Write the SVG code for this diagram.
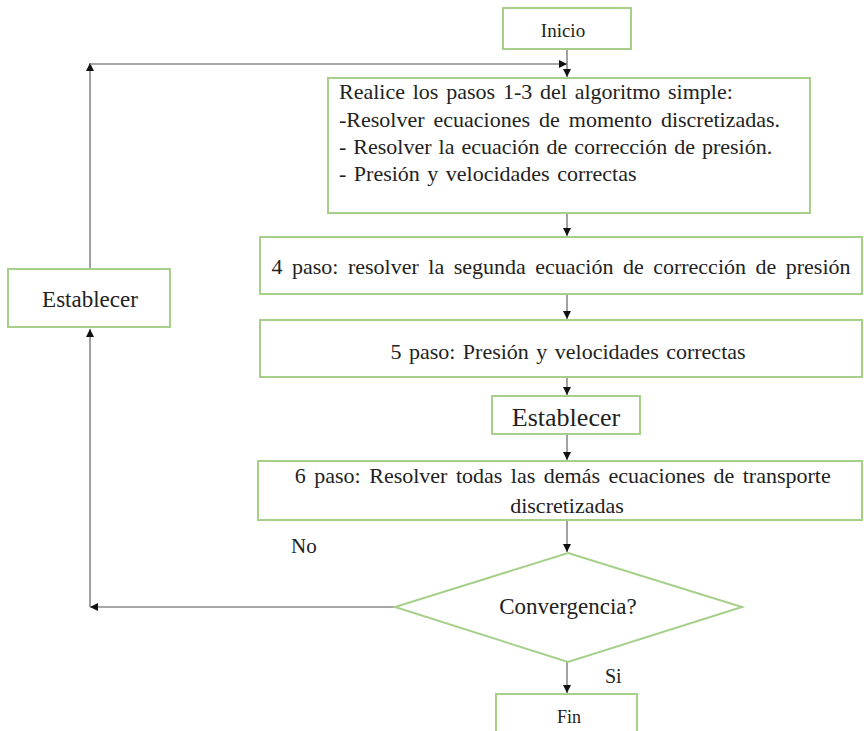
<svg xmlns="http://www.w3.org/2000/svg" width="864" height="731" viewBox="0 0 864 731">
<defs>
<marker id="ah" viewBox="0 0 10 10" refX="10" refY="5" markerWidth="8" markerHeight="8" markerUnits="userSpaceOnUse" orient="auto">
<path d="M0,0 L10,5 L0,10 z" fill="#111"/>
</marker>
</defs>
<style>
.box{fill:#fff;stroke:#a6d08a;stroke-width:2}
.t{font-family:"Liberation Serif","Times New Roman",serif;fill:#222}
.c{fill:none;stroke:#8a8a8a;stroke-width:1.6;marker-end:url(#ah)}
</style>
<rect width="864" height="731" fill="#fff"/>
<g id="connectors">
<line class="c" x1="567" y1="49" x2="567" y2="77"/>
<line class="c" x1="567" y1="213" x2="567" y2="236"/>
<line class="c" x1="567" y1="294" x2="567" y2="319"/>
<line class="c" x1="567" y1="377" x2="567" y2="395"/>
<line class="c" x1="567" y1="434" x2="567" y2="460"/>
<line class="c" x1="567" y1="520" x2="567" y2="552"/>
<line class="c" x1="567" y1="662" x2="567" y2="693"/>
<line class="c" x1="394" y1="607" x2="90" y2="607"/>
<line class="c" x1="90" y1="607" x2="90" y2="329"/>
<line class="c" x1="90" y1="269" x2="90" y2="63"/>
<line class="c" x1="90" y1="64" x2="567" y2="64"/>
</g>
<g id="inicio">
<rect class="box" x="503" y="8" width="128" height="41"/>
<text class="t" x="563" y="37" font-size="19" text-anchor="middle">Inicio</text>
</g>
<g id="pasos13">
<rect class="box" x="328" y="78" width="482" height="135"/>
<text class="t" font-size="22">
<tspan x="339" y="99" word-spacing="2.3">Realice los pasos 1-3 del algoritmo simple:</tspan>
<tspan x="339" y="127" word-spacing="3.5">-Resolver ecuaciones de momento discretizadas.</tspan>
<tspan x="339" y="154" word-spacing="1.5">- Resolver la ecuación de corrección de presión.</tspan>
<tspan x="339" y="181" word-spacing="2">- Presión y velocidades correctas</tspan>
</text>
</g>
<g id="paso4">
<rect class="box" x="260" y="237" width="602" height="57"/>
<text class="t" x="561" y="274" font-size="22" text-anchor="middle" word-spacing="4">4 paso: resolver la segunda ecuación de corrección de presión</text>
</g>
<g id="paso5">
<rect class="box" x="260" y="320" width="602" height="57"/>
<text class="t" x="568" y="359" font-size="22" text-anchor="middle" word-spacing="2">5 paso: Presión y velocidades correctas</text>
</g>
<g id="establecer-mid">
<rect class="box" x="492" y="396" width="148" height="38"/>
<text class="t" x="566" y="426" font-size="26" text-anchor="middle">Establecer</text>
</g>
<g id="paso6">
<rect class="box" x="258" y="461" width="604" height="59"/>
<text class="t" font-size="22" text-anchor="middle" word-spacing="3">
<tspan x="567" y="483">6 paso: Resolver todas las demás ecuaciones de transporte</tspan>
<tspan x="567" y="513">discretizadas</tspan>
</text>
</g>
<g id="establecer-left">
<rect class="box" x="8" y="269" width="162" height="58"/>
<text class="t" x="90" y="307" font-size="23" text-anchor="middle">Establecer</text>
</g>
<g id="convergencia">
<polygon class="box" points="568,553 742,607 568,662 395,607"/>
<text class="t" x="568" y="614" font-size="23" text-anchor="middle">Convergencia?</text>
</g>
<g id="fin">
<rect class="box" x="496" y="694" width="141" height="50"/>
<text class="t" x="569" y="723" font-size="18" text-anchor="middle">Fin</text>
</g>
<text class="t" x="291" y="553" font-size="21">No</text>
<text class="t" x="605" y="683" font-size="20">Si</text>
</svg>
